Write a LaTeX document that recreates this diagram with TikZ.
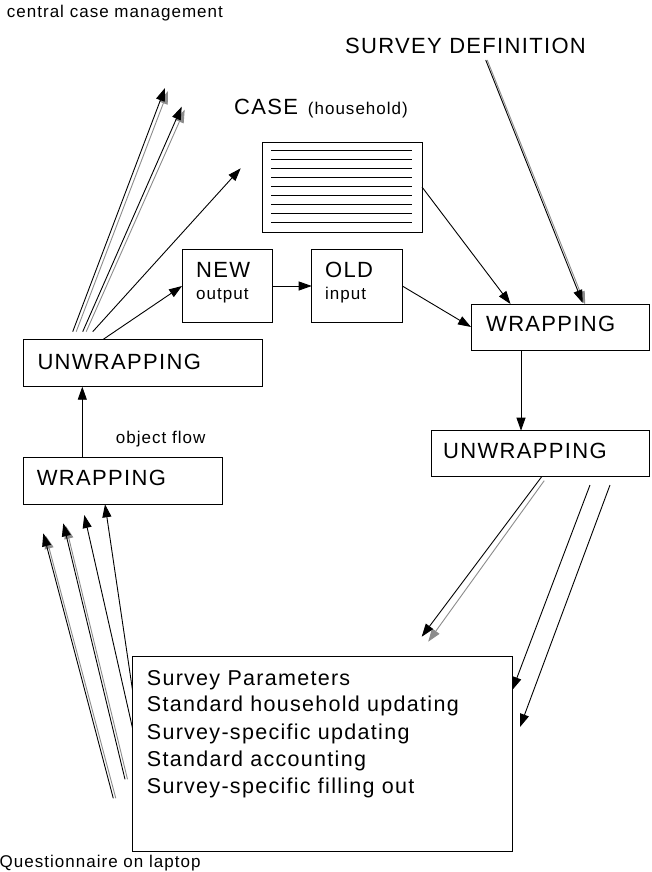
\documentclass[tikz,border=0pt]{standalone}
\usepackage{fontspec}
\setmainfont{Liberation Sans}[LetterSpace=6]
\usetikzlibrary{arrows.meta,calc}
\tikzset{
  box/.style={draw, line width=1pt, anchor=north west, inner sep=0pt, outer sep=0pt},
  lbl/.style={anchor=base west, inner sep=0pt, font=\fontsize{22}{26}\selectfont},
  sml/.style={anchor=base west, inner sep=0pt, font=\fontsize{17}{20}\selectfont},
  lst/.style={anchor=base west, inner sep=0pt, font=\fontsize{21.5}{26}\selectfont},
  arr/.style={line width=0.9pt, -{Triangle[length=13pt,width=9pt]}},
  shd/.style={line width=0.9pt, draw=black!45, -{Triangle[length=13pt,width=9pt]}},
}
\begin{document}
\begin{tikzpicture}[x=1pt,y=-1pt]
\useasboundingbox (0,0) rectangle (651,872);
\fill[white] (0,0) rectangle (651,872);

% boxes
\node[box, minimum width=239.4pt, minimum height=47.4pt] (unwL) at (23.3,339.3) {};
\node[box, minimum width=199pt, minimum height=47pt] (wrL) at (23.3,457.3) {};
\node[box, minimum width=90.3pt, minimum height=73.4pt] (newB) at (182,249.3) {};
\node[box, minimum width=90.6pt, minimum height=73.4pt] (oldB) at (311.7,249.3) {};
\node[box, minimum width=160pt, minimum height=90pt] (caseB) at (262,142) {};
\node[box, minimum width=178.5pt, minimum height=46pt] (wrR) at (471,304) {};
\node[box, minimum width=218.5pt, minimum height=46pt] (unwR) at (431,430.7) {};
\node[box, minimum width=379.8pt, minimum height=194.3pt] (listB) at (132.5,656.7) {};

% case record lines
\foreach \yy in {150,159,...,222} \draw[line width=1pt] (271,\yy) -- (412,\yy);

% texts
\node[sml] (tccm) at (6.7,17.3) {central case management};
\node[lbl] (tsd) at (345,54) {SURVEY DEFINITION};
\node[lbl] (tcase) at (234,114) {CASE};
\node[sml] (thh) at (307.7,114) {(household)};
\node[lbl] (tnew) at (196,277) {NEW};
\node[sml] (tout) at (196,299) {output};
\node[lbl] (told) at (325,277) {OLD};
\node[sml] (tin) at (325,299) {input};
\node[lbl] (tunwL) at (37.3,369.3) {UNWRAPPING};
\node[lbl] (twrL) at (36.7,485.7) {WRAPPING};
\node[sml] (tof) at (115.7,443.3) {object flow};
\node[lbl] (twrR) at (486,331.7) {WRAPPING};
\node[lbl] (tunwR) at (443,458.3) {UNWRAPPING};
\node[lst] (l1) at (146.7,685) {Survey Parameters};
\node[lst] (l2) at (146.7,711.7) {Standard household updating};
\node[lst] (l3) at (146.7,739) {Survey-specific updating};
\node[lst] (l4) at (146.7,766) {Standard accounting};
\node[lst] (l5) at (146.7,793) {Survey-specific filling out};
\node[sml] (tq) at (-0.5,867) {Questionnaire on laptop};

% coordinates
\coordinate (p1s) at (72.7,331.7);  \coordinate (p1e) at (165,88);
\coordinate (p2s) at (82.7,331.7);  \coordinate (p2e) at (181.7,106.7);
\coordinate (p3s) at (92.7,331.7);  \coordinate (p3e) at (240.7,168.3);
\coordinate (p4s) at (103.3,339.3);
\coordinate (sds) at (485.7,60);    \coordinate (sde) at (582.7,303);
\coordinate (cwe) at (510.5,304);
\coordinate (d1s) at (541.7,476.7); \coordinate (d1e) at (421.7,636.7);
\coordinate (d2s) at (590,485);     \coordinate (d2e) at (512.3,690);
\coordinate (d3s) at (610,485);     \coordinate (d3e) at (520,727);
\coordinate (b1s) at (113.3,798.3); \coordinate (b1e) at (43.3,533.3);
\coordinate (b2s) at (125,779.3);   \coordinate (b2e) at (63.3,523.3);
\coordinate (b3s) at (132.5,728);   \coordinate (b3e) at (84.3,515);
\coordinate (b4s) at (132.5,690);   \coordinate (b4e) at (105,504.3);

% shadows
\draw[shd] ($(p1s)+(3.5,0)$) -- ($(p1e)+(3,3)$);
\draw[shd] ($(p2s)+(3.5,0)$) -- ($(p2e)+(3,3)$);
\draw[shd] ($(sds)+(1.5,0)$) -- ($(sde)+(2.5,1.5)$);
\draw[shd] ($(d1s)+(2.5,4)$) -- ($(d1e)+(6.5,5)$);
\draw[shd] ($(b1s)+(2.5,0)$) -- ($(b1e)+(2.5,2.5)$);
\draw[shd] ($(b2s)+(2.5,0)$) -- ($(b2e)+(2.5,2.5)$);

% connectors
\draw[arr] (p1s) -- (p1e);
\draw[arr] (p2s) -- (p2e);
\draw[arr] (p3s) -- (p3e);
\draw[arr] (p4s) -- (newB.west);
\draw[arr] (newB.east) -- (oldB.west);
\draw[arr] (oldB.east) -- (wrR.west);
\draw[arr] (caseB.east) -- (cwe);
\draw[arr] (sds) -- (sde);
\draw[arr] ($(wrR.south west)+(50,0)$) -- ($(unwR.north west)+(90,0)$);
\draw[arr] (d1s) -- (d1e);
\draw[arr] (d2s) -- (d2e);
\draw[arr] (d3s) -- (d3e);
\draw[arr] ($(wrL.north west)+(59,0)$) -- ($(unwL.south west)+(59,0)$);
\draw[arr] (b1s) -- (b1e);
\draw[arr] (b2s) -- (b2e);
\draw[arr] (b3s) -- (b3e);
\draw[arr] (b4s) -- (b4e);
\end{tikzpicture}
\end{document}
